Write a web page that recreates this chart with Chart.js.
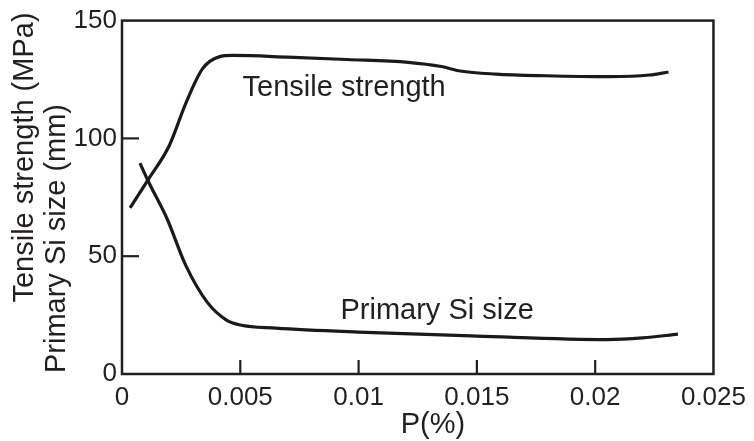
<!DOCTYPE html>
<html lang="en">
<head>
    <meta charset="UTF-8">
    <title>Tensile strength and primary Si size vs P</title>
    <script src="https://cdn.jsdelivr.net/npm/chart.js"></script>
    <style>
        body { margin: 0; background: #fff; }
        #wrap { width: 754px; height: 441px; }
    </style>
</head>
<body>
    <div id="wrap"><canvas id="grafico"></canvas></div>

    <script>
        // values
        const pTensile = [0.00034, 0.0011, 0.002, 0.0027, 0.0034, 0.0041, 0.0047, 0.007, 0.0095, 0.0121, 0.0135, 0.0143, 0.0158, 0.0179, 0.0206, 0.0223, 0.0231];
        const tensile  = [70.5, 82.4, 97, 115, 129.5, 134.6, 135.2, 134.5, 133.5, 132.3, 130.5, 128.6, 127.3, 126.6, 126.2, 126.9, 128.2];

        const pSi   = [0.00076, 0.0011, 0.0019, 0.0027, 0.0036, 0.0044, 0.005, 0.0065, 0.01, 0.015, 0.0205, 0.022, 0.0235];
        const siSize = [89.5, 82, 66, 46, 30.5, 23, 20.8, 19.5, 17.8, 16.1, 14.6, 15.3, 16.9];

        const xTicks = [0, 0.005, 0.01, 0.015, 0.02, 0.025];
        const yTicks = [0, 50, 100, 150];

        const curveLabels = ['Tensile strength', 'Primary Si size'];
        const yTitleLines = ['Tensile strength (MPa)', 'Primary Si size (mm)'];
        const xTitle = 'P(%)';

        const ink = '#231f20';
        const bigFont = '29px "Liberation Sans", Arial, sans-serif';

        function pts(xs, ys) {
            return xs.map((x, i) => ({ x: x, y: ys[i] }));
        }

        // frame, inward ticks and the text drawn on the figure
        const decor = {
            id: 'decor',
            afterDraw(chart) {
                const ctx = chart.ctx;
                const a = chart.chartArea;
                const sx = chart.scales.x, sy = chart.scales.y;
                ctx.save();
                ctx.strokeStyle = ink;
                ctx.lineWidth = 2.5;
                ctx.strokeRect(a.left, a.top, a.right - a.left, a.bottom - a.top);

                ctx.lineWidth = 2.2;
                xTicks.slice(1, -1).forEach(v => {
                    const px = sx.getPixelForValue(v);
                    ctx.beginPath();
                    ctx.moveTo(px, a.bottom);
                    ctx.lineTo(px, a.bottom - 14);
                    ctx.stroke();
                });
                yTicks.slice(1, -1).forEach(v => {
                    const py = sy.getPixelForValue(v);
                    ctx.beginPath();
                    ctx.moveTo(a.left, py);
                    ctx.lineTo(a.left + 17, py);
                    ctx.stroke();
                });

                ctx.fillStyle = ink;
                ctx.font = bigFont;
                ctx.textAlign = 'center';
                ctx.textBaseline = 'alphabetic';
                ctx.fillText(curveLabels[0], sx.getPixelForValue(0.00939), sy.getPixelForValue(117.9));
                ctx.fillText(curveLabels[1], sx.getPixelForValue(0.01332), sy.getPixelForValue(23.5));

                ctx.fillText(xTitle, 433, 433);

                const titlePos = [[33, 157.5], [65, 238.5]];
                yTitleLines.forEach((t, i) => {
                    ctx.save();
                    ctx.translate(titlePos[i][0], titlePos[i][1]);
                    ctx.rotate(-Math.PI / 2);
                    ctx.fillText(t, 0, 0);
                    ctx.restore();
                });
                ctx.restore();
            }
        };

        const lineStyle = {
            showLine: true,
            borderColor: '#1a1a1a',
            borderWidth: 3.2,
            pointRadius: 0,
            cubicInterpolationMode: 'monotone',
            fill: false
        };

        new Chart(document.getElementById('grafico'), {
            type: 'scatter',
            data: {
                datasets: [
                    Object.assign({ label: curveLabels[0], data: pts(pTensile, tensile) }, lineStyle),
                    Object.assign({ label: curveLabels[1], data: pts(pSi, siSize) }, lineStyle)
                ]
            },
            options: {
                responsive: true,
                maintainAspectRatio: false,
                animation: false,
                layout: { padding: { top: 17, right: 37, left: 0, bottom: 0 } },
                plugins: { legend: { display: false }, tooltip: { enabled: false } },
                scales: {
                    x: {
                        type: 'linear',
                        min: 0, max: 0.025,
                        afterFit(s) { s.height = 67; },
                        afterBuildTicks(s) { s.ticks = xTicks.map(v => ({ value: v })); },
                        grid: { display: false, drawTicks: false },
                        border: { display: false },
                        ticks: {
                            padding: 8,
                            color: ink,
                            maxRotation: 0,
                            font: { family: '"Liberation Sans", Arial, sans-serif', size: 26 },
                            callback: v => String(v)
                        }
                    },
                    y: {
                        min: 0, max: 150,
                        afterFit(s) { s.width = 122; },
                        afterBuildTicks(s) { s.ticks = yTicks.map(v => ({ value: v })); },
                        grid: { display: false, drawTicks: false },
                        border: { display: false },
                        ticks: {
                            padding: 5,
                            color: ink,
                            font: { family: '"Liberation Sans", Arial, sans-serif', size: 26 }
                        }
                    }
                }
            },
            plugins: [decor]
        });
    </script>
</body>
</html>
